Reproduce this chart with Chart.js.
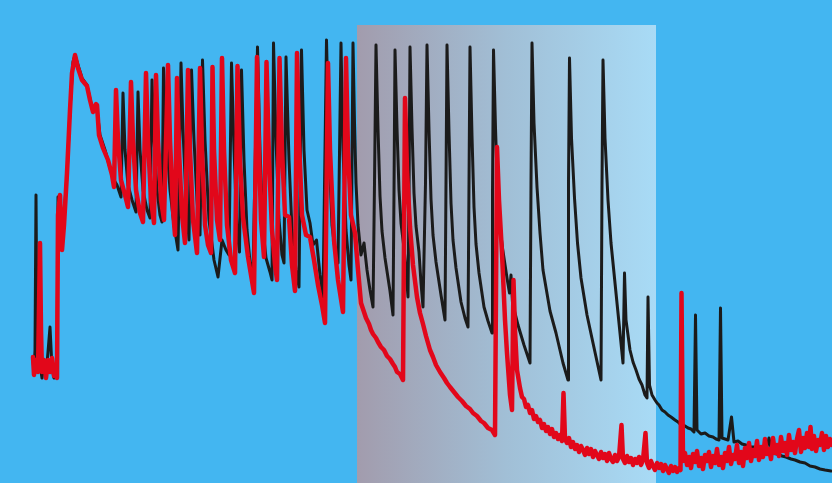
<!DOCTYPE html>
<html>
<head>
<meta charset="utf-8">
<script src="https://cdn.jsdelivr.net/npm/chart.js"></script>
<style>
  html, body { margin: 0; padding: 0; background: #43b6f1; }
  canvas { display: block; }
</style>
</head>
<body>
<canvas id="traceChart" width="832" height="483"></canvas>
<script>
// Trazas: [tiempo, señal]
const blackTrace = [
  [33,123],[34,111],[35,133],[36,288],[37,143],[38,111],[40,118],[42,105],[44,121],[46,108],[48,131],[50,156],[52,115],[54,105],[56,111],[57,105],
  [58,286],[60,278],[62,238],[64,268],[67,308],[70,373],[73,421],[75,428],[78,418],[82,405],[87,398],[92,375],[97,373],[100,348],[105,333],[110,315],[114,303],[117,298],[121,286],
  [123,390],[125,333],[128,298],[132,283],[136,271],[138,391],[140,333],[143,293],[147,273],[150,265],[152,403],[154,343],[157,293],[160,268],[162,261],
  [163.5,415],[166,353],[170,293],[174,258],[178,233],[181,420],[183,353],[186,283],[189,243],[191.5,413],[194,343],[197,283],[200,248],
  [202.5,423],[205,343],[209,263],[214,223],[218,206],[222,243],[226,233],[229,228],[231.5,420],[234,333],[237,253],[239.5,231],
  [241.5,413],[244,323],[247,253],[250,221],[253,211],[257.5,436],[260,333],[263,253],[266,225],[270,211],[272,203],
  [273.5,440],[276,343],[279,263],[282,228],[284,220],[286,426],[289,323],[292,253],[296,213],[299,196],
  [301.5,433],[304,333],[307,273],[310,260],[313,238],[316.5,243],[320,208],[323,186],[326.5,443],[329,333],[332,258],[335,233],[338,220],
  [341,440],[343,333],[346,253],[349,218],[351,203],[353,440],[354.5,360],[356,300],[358,258],[361,228],[364,240],[367,213],[370,193],[373,176],
  [374.5,300],[376,438],[378,354],[380,287],[382,252],[385,225],[390,192],[393,168],
  [394,290],[395,433],[397,355],[399,293],[401,260],[404,235],[406,213],[408,186],
  [409,290],[410,436],[412,355],[414,290],[416,257],[419,231],[421,200],[423,176],
  [425.5,300],[427,438],[429,353],[431,284],[433,248],[436,221],[441,188],[445,163],
  [446,300],[447,438],[449,351],[451,280],[453,243],[456,215],[461,181],[465,165],[468,156],
  [469,300],[470,436],[472,347],[474,276],[476,239],[479,210],[484,176],[488,162],[492,150],
  [492.5,290],[493.5,433],[495.5,355],[497.5,293],[499.5,260],[502.5,235],[507,205],[509.5,190],[511,208],[512.5,180],[518,158],[524,138],[530,120],
  [531,300],[532,440],[534,360],[537,296],[540,250],[543,213],[550,172],[556,150],[563,120],[568,103],
  [568.5,300],[569.5,425],[571.5,345],[574.5,285],[577.5,240],[581,205],[587,168],[593,140],[601,103],
  [602,300],[603,423],[605,345],[608,283],[611,240],[615,200],[619,160],[623,120],
  [624.5,210],[626,163],[630,133],[633,121],[636,113],[639,104],[642,98],[645,88],[647,85],
  [648,186],[649.5,98],[652,88],[655,83],[657,80],[659,78],[662,73],[665,71],[668,68],[671,66],[675,63],[678,61],[681,58],[685,57],[688,55],[691,54],[694,51],
  [695.5,168],[697,53],[701,49],[705,50],[709,47],[713,46],[716,44],[719,43],[720.5,175],[722,45],[725,44],[728,43],[731.5,66],[734,41],
  [738,42],[742,39],[746,38],[750,36],[754,36],[758,34],[762,33],[766,32],[769,45],[772,30],[777,29],[782,27],[786,26],[791,24],[795,23],
  [800,21],[805,20],[810,17],[815,16],[820,14],[825,13],[831,12]
];

const redTrace = [
  [33,126],[34,108],[36,123],[38,111],[40,240],[41,153],[42,111],[44,123],[46,105],[48,123],[50,111],[52,125],[54,107],[56,117],[57,105],
  [58,268],[60,288],[62,233],[64,258],[67,310],[70,373],[72,410],[75,428],[78,415],[82,403],[87,397],[90,383],[93,371],[96,379],[97,378],
  [99,348],[103,335],[108,323],[112,308],[114,296],[116,393],[118,343],[121,303],[125,288],[128,276],[131,401],[133,343],[136,293],[140,270],[143,261],
  [146,410],[148,343],[151,283],[154,260],[156,408],[158,343],[161,283],[164,263],[168,418],[170,343],[173,273],[175,248],
  [177,405],[179,333],[182,268],[185,240],[188,413],[190,333],[193,263],[197,230],[200,415],[202,333],[205,258],[208,238],[211,230],
  [212.5,416],[214,333],[217,263],[220,243],[222,425],[224,333],[227,258],[231,223],[235,210],[237.5,417],[240,323],[243,266],[248,226],[254,190],
  [257,426],[259,333],[261,263],[264,226],[266.5,421],[269,323],[272,253],[275,218],[277,203],[279.5,425],[282,333],[285,268],[289,266],[292,218],[295,192],
  [297,430],[299,343],[302,268],[306,248],[310,246],[314,223],[318,198],[322,178],[325,160],[328,420],[330,333],[334,243],[338,203],[343,171],
  [346,425],[348,333],[351,268],[355,250],[358,213],[361,180],[364,171],[366,165],[369,159],[371,153],[373,149],[376,145],[378,141],[381,136],
  [384,133],[387,127],[390,124],[393,119],[395,116],[397,111],[400,109],[403,103],
  [405,385],[407,313],[410,256],[413,218],[417,186],[420,170],[423,159],[426,147],[430,133],[433,126],[436,118],[440,111],[444,105],[447,100],
  [450,96],[454,91],[458,86],[462,82],[466,77],[470,74],[473,70],[477,67],[481,62],[484,60],[488,55],[492,53],[495,48],
  [497,336],[499,283],[502,230],[505,163],[507,130],[510,88],[512,73],[513.5,203],[515,153],[517,113],
  [520,95],[522,86],[524,84],[526,76],[528,78],[530,70],[532,73],[534,64],[536,67],[538,61],[540,63],[542,55],[544,59],[546,52],[548,56],
  [550,49],[552,54],[554,46],[556,50],[558,44],[560,48],[562,42],[563.5,90],[565,44],[567,40],[569,45],[571,36],[573,41],[575,34],[577,38],
  [579,31],[581,37],[583,33],[585,28],[587,35],[589,29],[591,34],[593,26],[595,32],[597,28],[599,24],[601,31],[603,25],[605,29],[607,22],
  [609,30],[611,24],[613,21],[615,28],[617,22],[619,26],[621.5,58],[623,24],[625,20],[627,27],[629,21],[631,25],[633,18],[635,24],[637,20],
  [639,26],[641,18],[643,23],[645.5,50],[647,20],[649,15],[651,22],[653,17],[655,13],[657,20],[659,15],[661,19],[663,12],[665,18],[667,14],
  [669,10],[671,17],[673,12],[675,16],[677,11],[679,15],[680.5,13],[681.5,190],[683,22],
  [685,30],[687,18],[689,26],[691,15],[693,29],[695,21],[697,32],[699,17],[701,25],[703,14],[705,28],[707,22],[709,31],[711,16],[713,27],
  [715,20],[717,34],[719,18],[721,26],[723,15],[725,30],[727,22],[729,36],[731,19],[733,28],[735,24],[737,38],[739,20],[741,31],[743,17],
  [745,35],[747,25],[749,40],[751,22],[753,33],[755,27],[757,42],[759,23],[761,36],[763,26],[765,44],[767,29],[769,34],[771,24],[773,45],
  [775,30],[777,38],[779,27],[781,46],[783,32],[785,40],[787,28],[789,48],[791,33],[793,41],[795,30],[797,44],[799,53],[801,31],[803,45],
  [805,35],[807,50],[809,36],[810.5,56],[812,34],[814,47],[816,32],[818,43],[820,38],[822,50],[824,33],[826,47],[828,36],[830,44],[832,38]
];

// Ventana sombreada (eje de tiempo) y su borde superior (eje de señal)
const shadeWindow = [357, 656];
const shadeTop = 458;

const shadePlugin = {
  id: 'shade',
  beforeDatasetsDraw(chart) {
    const { ctx, chartArea } = chart;
    const x = chart.scales.x;
    const y = chart.scales.y;
    const left = x.getPixelForValue(shadeWindow[0]);
    const right = x.getPixelForValue(shadeWindow[1]);
    const top = y.getPixelForValue(shadeTop);
    const grad = ctx.createLinearGradient(left, 0, right, 0);
    grad.addColorStop(0, '#a29cad');
    grad.addColorStop(0.5, '#a1bfd6');
    grad.addColorStop(1, '#a8dbf6');
    ctx.save();
    ctx.fillStyle = grad;
    ctx.fillRect(left, top, right - left, chartArea.bottom - top);
    ctx.restore();
  }
};

const toPoints = (arr) => arr.map(([t, v]) => ({ x: t, y: v }));

const ctx = document.getElementById('traceChart').getContext('2d');
const traceChart = new Chart(ctx, {
  type: 'line',
  data: {
    datasets: [
      {
        label: 'rojo',
        data: toPoints(redTrace),
        borderColor: '#e2071a',
        borderWidth: 4.5,
        pointRadius: 0,
        tension: 0,
        borderJoinStyle: 'round',
        borderCapStyle: 'round',
        order: 0
      },
      {
        label: 'negro',
        data: toPoints(blackTrace),
        borderColor: '#1b1b1b',
        borderWidth: 3,
        pointRadius: 0,
        tension: 0,
        borderJoinStyle: 'round',
        borderCapStyle: 'round',
        order: 1
      }
    ]
  },
  options: {
    responsive: false,
    animation: false,
    devicePixelRatio: 1,
    layout: { padding: 0 },
    scales: {
      x: { type: 'linear', min: 0, max: 832, display: false },
      y: { type: 'linear', min: 0, max: 483, display: false }
    },
    plugins: {
      legend: { display: false },
      tooltip: { enabled: false }
    }
  },
  plugins: [shadePlugin]
});
</script>
</body>
</html>
